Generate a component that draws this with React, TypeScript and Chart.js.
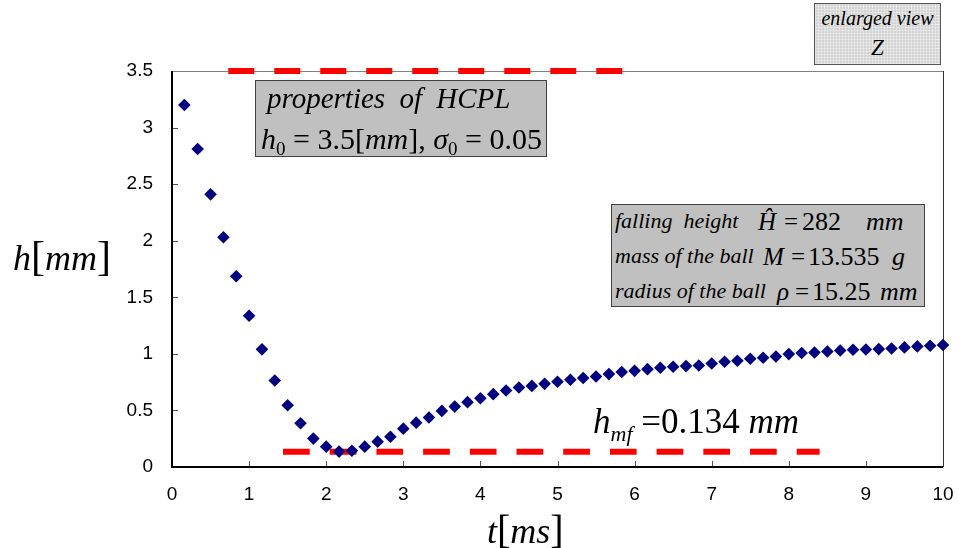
import React, { useEffect, useRef } from "react";
import { Chart, registerables } from "chart.js";

Chart.register(...registerables);

// ---- data ----
const timeMs = [
  0.16, 0.333, 0.5, 0.667, 0.833, 1.0, 1.167, 1.333, 1.5, 1.667,
  1.833, 2.0, 2.167, 2.333, 2.5, 2.667, 2.833, 3.0, 3.167, 3.333,
  3.5, 3.667, 3.833, 4.0, 4.167, 4.333, 4.5, 4.667, 4.833, 5.0,
  5.167, 5.333, 5.5, 5.667, 5.833, 6.0, 6.167, 6.333, 6.5, 6.667,
  6.833, 7.0, 7.167, 7.333, 7.5, 7.667, 7.833, 8.0, 8.167, 8.333,
  8.5, 8.667, 8.833, 9.0, 9.167, 9.333, 9.5, 9.667, 9.833, 10.0,
];
const heightMm = [
  3.2, 2.81, 2.41, 2.03, 1.686, 1.337, 1.04, 0.764, 0.546, 0.387,
  0.251, 0.18, 0.136, 0.144, 0.18, 0.224, 0.268, 0.339, 0.392, 0.437,
  0.496, 0.534, 0.573, 0.608, 0.644, 0.676, 0.702, 0.717, 0.735, 0.753,
  0.771, 0.786, 0.8, 0.821, 0.839, 0.85, 0.865, 0.877, 0.886, 0.892,
  0.897, 0.915, 0.93, 0.939, 0.957, 0.965, 0.977, 0.998, 1.007, 1.012,
  1.021, 1.03, 1.036, 1.039, 1.042, 1.048, 1.057, 1.066, 1.072, 1.078,
];
const initialLineT = [0.73, 5.89];
const initialLineH = [3.5, 3.5];
const filmLineT = [1.44, 8.4];
const filmLineH = [0.134, 0.134];
const xTicks = [0, 1, 2, 3, 4, 5, 6, 7, 8, 9, 10];
const yTicks = [0, 0.5, 1, 1.5, 2, 2.5, 3, 3.5];

const SERIF = '"Liberation Serif", "DejaVu Serif", serif';
const SANS = '"Liberation Sans", Arial, sans-serif';

const framePlugin = {
  id: "frame",
  beforeDatasetsDraw(chart: any) {
    const { ctx, chartArea: a, scales } = chart;
    ctx.save();
    ctx.lineWidth = 1;
    ctx.strokeStyle = "#555";
    ctx.beginPath();
    xTicks.forEach((v) => {
      const px = Math.round(scales.x.getPixelForValue(v)) + 0.5;
      ctx.moveTo(px, a.bottom);
      ctx.lineTo(px, a.bottom - 6);
    });
    yTicks.forEach((v) => {
      const py = Math.round(scales.y.getPixelForValue(v)) + 0.5;
      ctx.moveTo(a.left, py);
      ctx.lineTo(a.left + 6, py);
    });
    ctx.stroke();
    ctx.strokeStyle = "#808080";
    ctx.beginPath();
    ctx.moveTo(a.left, Math.round(a.top) + 0.5);
    ctx.lineTo(a.right, Math.round(a.top) + 0.5);
    ctx.stroke();
    ctx.strokeStyle = "#333";
    ctx.beginPath();
    ctx.moveTo(Math.round(a.right) + 0.5, a.top);
    ctx.lineTo(Math.round(a.right) + 0.5, a.bottom);
    ctx.stroke();
    ctx.strokeStyle = "#000";
    ctx.lineWidth = 2;
    ctx.beginPath();
    ctx.moveTo(a.left, a.top);
    ctx.lineTo(a.left, a.bottom);
    ctx.lineTo(a.right, a.bottom);
    ctx.stroke();
    ctx.restore();
  },
};

const it: React.CSSProperties = { fontStyle: "italic" };
const up: React.CSSProperties = { fontStyle: "normal" };

export default function App() {
  const ref = useRef<HTMLCanvasElement>(null);

  useEffect(() => {
    if (!ref.current) return;
    const chart = new Chart(ref.current, {
      type: "scatter",
      data: {
        datasets: [
          {
            label: "h",
            data: timeMs.map((t, i) => ({ x: t, y: heightMm[i] })),
            pointStyle: "rectRot",
            pointRadius: 6.3,
            pointBackgroundColor: "#000080",
            pointBorderColor: "#000080",
            pointBorderWidth: 0,
            showLine: false,
            clip: false,
          } as any,
          {
            label: "h0",
            type: "line",
            data: initialLineT.map((t, i) => ({ x: t, y: initialLineH[i] })),
            borderColor: "#ff0000",
            borderWidth: 6,
            borderDash: [26, 20],
            borderCapStyle: "butt",
            pointRadius: 0,
            clip: false,
          } as any,
          {
            label: "hmf",
            type: "line",
            data: filmLineT.map((t, i) => ({ x: t, y: filmLineH[i] })),
            borderColor: "#ff0000",
            borderWidth: 6,
            borderDash: [26.7, 20],
            borderCapStyle: "butt",
            pointRadius: 0,
            clip: false,
          } as any,
        ],
      },
      options: {
        animation: false,
        responsive: false,
        layout: { padding: { top: 71, right: 16, left: 0, bottom: 0 } },
        plugins: {
          legend: { display: false },
          tooltip: { enabled: false },
        },
        scales: {
          x: {
            type: "linear",
            min: 0,
            max: 10,
            grid: { display: false, drawTicks: false },
            border: { display: false },
            afterBuildTicks: (s: any) => {
              s.ticks = xTicks.map((v) => ({ value: v }));
            },
            afterFit: (s: any) => {
              s.height = 81;
              s.paddingLeft = 0;
              s.paddingRight = 0;
            },
            ticks: {
              color: "#000",
              padding: 16,
              maxRotation: 0,
              callback: (v: any) => String(v),
              font: { family: SANS, size: 19 },
            },
          },
          y: {
            type: "linear",
            min: 0,
            max: 3.5,
            grid: { display: false, drawTicks: false },
            border: { display: false },
            afterBuildTicks: (s: any) => {
              s.ticks = yTicks.map((v) => ({ value: v }));
            },
            afterFit: (s: any) => {
              s.width = 172;
              s.paddingTop = 0;
              s.paddingBottom = 0;
            },
            ticks: {
              color: "#000",
              padding: 19,
              callback: (v: any) => String(v),
              font: { family: SANS, size: 19 },
            },
          },
        },
      },
      plugins: [framePlugin],
    } as any);
    return () => chart.destroy();
  }, []);

  const abs = (o: React.CSSProperties): React.CSSProperties => ({
    position: "absolute",
    fontFamily: SERIF,
    color: "#000",
    whiteSpace: "nowrap",
    lineHeight: 1,
    ...o,
  });

  const params = [
    { label: "falling  height", sym: "Ĥ", val: "282", unit: "mm", top: 210, sx: 758, ex: 784, nx: 802, ux: 866 },
    { label: "mass of the ball", sym: "M", val: "13.535", unit: "g", top: 245, sx: 763, ex: 791, nx: 808, ux: 892 },
    { label: "radius of the ball", sym: "ρ", val: "15.25", unit: "mm", top: 280, sx: 777, ex: 795, nx: 812, ux: 880 },
  ];

  return (
    <div
      style={{
        position: "fixed",
        left: 0,
        top: 0,
        width: 959,
        height: 548,
        background: "#fff",
        overflow: "hidden",
      }}
    >
      <canvas
        ref={ref}
        width={959}
        height={548}
        style={{ position: "absolute", left: 0, top: 0, width: 959, height: 548 }}
      />

      {/* y-axis title */}
      <div style={abs({ left: 13, top: 235, fontSize: 36 })}>
        <span style={it}>h</span>
        <span style={{ ...up, fontSize: 42 }}>[</span>
        <span style={it}>mm</span>
        <span style={{ ...up, fontSize: 42 }}>]</span>
      </div>

      {/* x-axis title */}
      <div style={abs({ left: 487, top: 510, fontSize: 36 })}>
        <span style={it}>t</span>
        <span style={{ ...up, fontSize: 40 }}>[</span>
        <span style={it}>ms</span>
        <span style={{ ...up, fontSize: 40 }}>]</span>
      </div>

      {/* properties box */}
      <div
        style={{
          position: "absolute",
          left: 255,
          top: 80,
          width: 290,
          height: 75,
          background: "#c0c0c0",
          border: "1.5px solid #404040",
        }}
      />
      <div style={abs({ left: 267, top: 84, fontSize: 29, ...it, wordSpacing: 7 })}>
        properties of HCPL
      </div>
      <div style={abs({ left: 261, top: 124, fontSize: 30 })}>
        <span style={it}>h</span>
        <sub style={{ fontSize: 19, verticalAlign: -6 }}>0</sub>
        <span> = 3.5[</span>
        <span style={it}>mm</span>
        <span>], </span>
        <span style={it}>σ</span>
        <sub style={{ fontSize: 19, verticalAlign: -6 }}>0</sub>
        <span> = 0.05</span>
      </div>

      {/* parameters box */}
      <div
        style={{
          position: "absolute",
          left: 611,
          top: 204,
          width: 312,
          height: 101,
          background: "#c0c0c0",
          border: "1.5px solid #404040",
        }}
      />
      {params.map((r) => (
        <React.Fragment key={r.label}>
          <div style={abs({ left: 615, top: r.top, fontSize: 22, whiteSpace: "pre", ...it })}>
            {r.label}
          </div>
          <div style={abs({ left: r.sx, top: r.top - 1, fontSize: 25, ...it })}>{r.sym}</div>
          <div style={abs({ left: r.ex, top: r.top - 1, fontSize: 25 })}>=</div>
          <div style={abs({ left: r.nx, top: r.top - 1, fontSize: 26 })}>{r.val}</div>
          <div style={abs({ left: r.ux, top: r.top - 1, fontSize: 26, ...it })}>{r.unit}</div>
        </React.Fragment>
      ))}

      {/* enlarged view box */}
      <div
        style={{
          position: "absolute",
          left: 814,
          top: 3,
          width: 125,
          height: 60,
          background: "#d3d3d3",
          backgroundImage:
            "repeating-linear-gradient(0deg, rgba(255,255,255,0.35) 0 1px, transparent 1px 3px), repeating-linear-gradient(90deg, rgba(255,255,255,0.35) 0 1px, transparent 1px 3px)",
          border: "1px solid #555",
        }}
      />
      <div style={abs({ left: 814, width: 127, textAlign: "center", top: 8, fontSize: 20, ...it })}>
        enlarged view
      </div>
      <div style={abs({ left: 814, width: 127, textAlign: "center", top: 36, fontSize: 23, ...it })}>
        Z
      </div>

      {/* h_mf label */}
      <div style={abs({ left: 593, top: 404, fontSize: 35 })}>
        <span style={it}>h</span>
        <sub style={{ ...it, fontSize: 22, verticalAlign: -8 }}>mf</sub>
        <span> =0.134 </span>
        <span style={it}>mm</span>
      </div>
    </div>
  );
}
